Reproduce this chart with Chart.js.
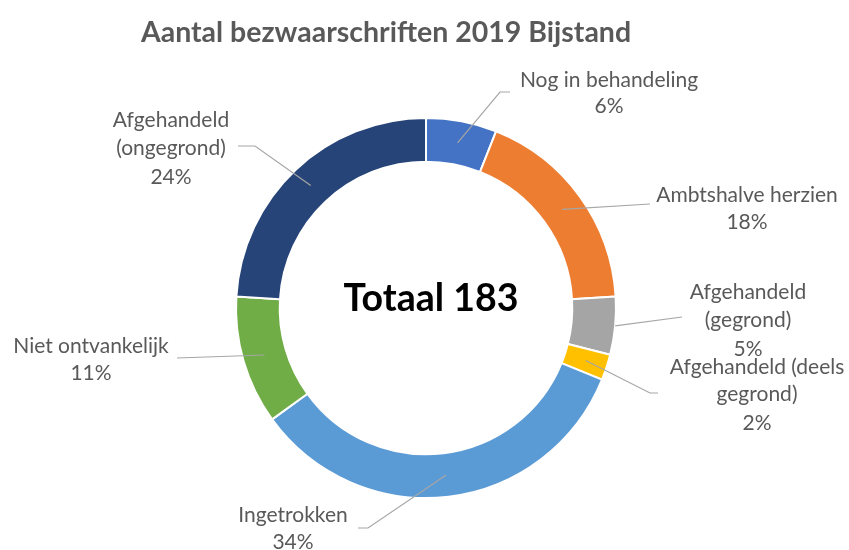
<!DOCTYPE html>
<html>
<head>
<meta charset="utf-8">
<script src="https://cdn.jsdelivr.net/npm/chart.js@4.4.1/dist/chart.umd.min.js"></script>
<style>
  html, body { margin: 0; padding: 0; background: #ffffff; }
  #wrap { width: 849px; height: 550px; }
</style>
</head>
<body>
<div id="wrap"><canvas id="c" width="849" height="550"></canvas></div>
<script>
// ---- DATA ----
const titleText = "Aantal bezwaarschriften 2019 Bijstand";
const centerText = "Totaal 183";
const categories = [
  "Nog in behandeling",
  "Ambtshalve herzien",
  "Afgehandeld (gegrond)",
  "Afgehandeld (deels gegrond)",
  "Ingetrokken",
  "Niet ontvankelijk",
  "Afgehandeld (ongegrond)"
];
const counts = [11, 33, 9, 4, 62, 20, 44];
const percentLabels = ["6%", "18%", "5%", "2%", "34%", "11%", "24%"];
const labelLines = [
  ["Nog in behandeling"],
  ["Ambtshalve herzien"],
  ["Afgehandeld", "(gegrond)"],
  ["Afgehandeld (deels", "gegrond)"],
  ["Ingetrokken"],
  ["Niet ontvankelijk"],
  ["Afgehandeld", "(ongegrond)"]
];
const colors = ["#4472C4", "#ED7D31", "#A5A5A5", "#FFC000", "#5B9BD5", "#70AD47", "#264478"];

// ---- LAYOUT (label placement) ----
const labelLayout = [
  { pts: [[500, 92], [510, 92]], cx: 609, ys: [80, 106], from: "mid" },
  { pts: [[650, 204]], cx: 747, ys: [195, 222], from: "mid" },
  { pts: [[682, 317]], cx: 748, ys: [292, 320, 349], from: "outer" },
  { pts: [[650, 393], [658, 393]], cx: 757, ys: [367, 394, 423], from: "mid" },
  { pts: [[368, 528], [358, 528]], cx: 293, ys: [515, 542], from: "mid" },
  { pts: [[177, 358]], cx: 91, ys: [346, 373], from: "mid" },
  { pts: [[255, 146], [238, 146]], cx: 171, ys: [120, 148, 177], from: "mid" }
];

const labelFont = "21px Lato";
const labelColor = "#595959";
const leaderColor = "#A6A6A6";

const overlay = {
  id: "overlay",
  afterDatasetsDraw(chart) {
    const ctx = chart.ctx;
    const meta = chart.getDatasetMeta(0);
    ctx.save();
    // title
    ctx.fillStyle = "#595959";
    ctx.font = "bold 28.5px Lato";
    ctx.textAlign = "center";
    ctx.textBaseline = "middle";
    ctx.fillText(titleText, 386, 33);

    // center text
    const a0 = meta.data[0];
    ctx.fillStyle = "#000000";
    ctx.font = "bold 37.5px Lato";
    ctx.fillText(centerText, a0.x + 5, a0.y - 9);

    // leaders + labels
    meta.data.forEach((arc, i) => {
      const p = arc.getProps(["x", "y", "startAngle", "endAngle", "innerRadius", "outerRadius"], true);
      const mid = (p.startAngle + p.endAngle) / 2;
      const L = labelLayout[i];
      const r = L.from === "outer" ? p.outerRadius : (p.innerRadius + p.outerRadius) / 2;
      const sx = p.x + Math.cos(mid) * r;
      const sy = p.y + Math.sin(mid) * r;
      ctx.strokeStyle = leaderColor;
      ctx.lineWidth = 1.2;
      ctx.beginPath();
      ctx.moveTo(sx, sy);
      L.pts.forEach(pt => ctx.lineTo(pt[0], pt[1]));
      ctx.stroke();

      ctx.fillStyle = labelColor;
      ctx.font = labelFont;
      ctx.textAlign = "center";
      ctx.textBaseline = "middle";
      const lines = labelLines[i].concat([percentLabels[i]]);
      lines.forEach((t, k) => ctx.fillText(t, L.cx, L.ys[k]));
    });
    ctx.restore();
  }
};

new Chart(document.getElementById("c"), {
  type: "doughnut",
  data: {
    labels: categories,
    datasets: [{
      data: counts,
      backgroundColor: colors,
      borderColor: "#ffffff",
      borderWidth: 2,
      hoverOffset: 0
    }]
  },
  options: {
    responsive: false,
    animation: false,
    cutout: "77%",
    rotation: 0,
    layout: { padding: { top: 117, bottom: 51, left: 3, right: 0 } },
    plugins: {
      legend: { display: false },
      title: { display: false },
      tooltip: { enabled: false }
    },
    events: []
  },
  plugins: [overlay]
});
</script>
</body>
</html>
